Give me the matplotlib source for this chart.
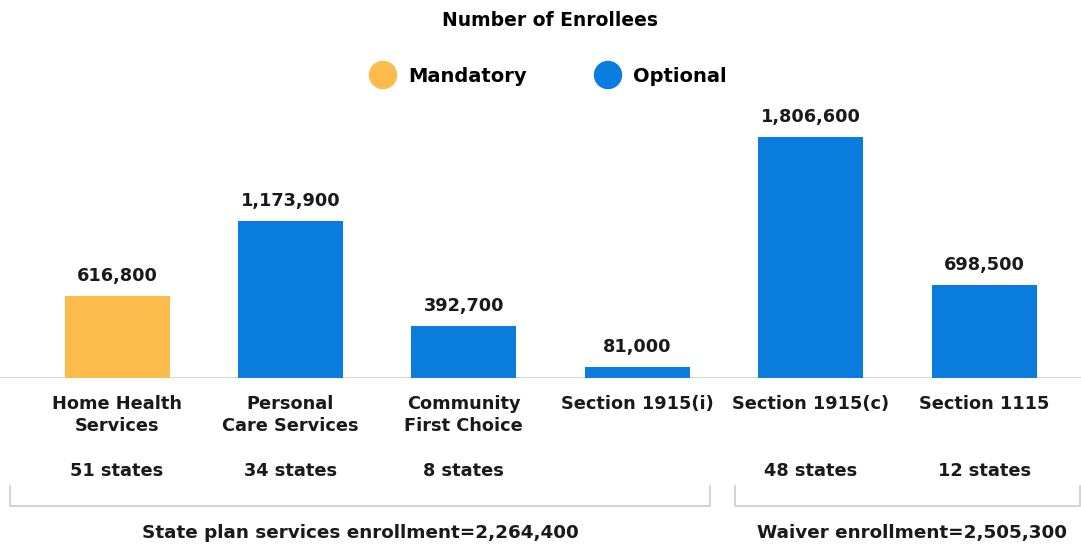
import matplotlib
matplotlib.use('Agg')
import matplotlib.pyplot as plt
from matplotlib import transforms
from matplotlib.patches import Ellipse
from matplotlib.lines import Line2D

categories = ['Home Health\nServices', 'Personal\nCare Services', 'Community\nFirst Choice',
              'Section 1915(i)', 'Section 1915(c)', 'Section 1115']
enrollees = [616800, 1173900, 392700, 81000, 1806600, 698500]
kinds = ['Mandatory', 'Optional', 'Optional', 'Optional', 'Optional', 'Optional']
states = ['51 states', '34 states', '8 states', '', '48 states', '12 states']
group_labels = ['State plan services enrollment=2,264,400', 'Waiver enrollment=2,505,300']

colors = {'Mandatory': '#FCBB4A', 'Optional': '#0A7CDE'}
W, H = 1081, 546
plt.rcParams['font.family'] = ['DejaVu Sans']

fig = plt.figure(figsize=(W / 100, H / 100), dpi=100)
# axes: baseline at y=378 px, top at y=100 px
ax = fig.add_axes([0, 1 - 378 / H, 1, (378 - 100) / H])
x = list(range(len(categories)))
ax.bar(x, enrollees, width=0.605, color=[colors[k] for k in kinds], zorder=2)
ax.set_xlim(-0.675, 5.559)
ax.set_ylim(0, 2084000)
ax.axhline(0, color='#cfcfcf', lw=1.2, zorder=1)
ax.axis('off')

for xi, v in zip(x, enrollees):
    ax.annotate(f'{v:,}', (xi, v), xytext=(0, 8), textcoords='offset points',
                ha='center', va='bottom', fontsize=12.8, fontweight='semibold', color='#1a1a1a')

tr = transforms.blended_transform_factory(ax.transData, fig.transFigure)

def fy(py):
    return 1 - py / H

for xi, c, s in zip(x, categories, states):
    ax.text(xi, fy(395), c, transform=tr, ha='center', va='top', fontsize=12.8,
            fontweight='semibold', color='#1a1a1a', linespacing=1.3)
    if s:
        ax.text(xi, fy(471), s, transform=tr, ha='center', va='center', fontsize=12.8,
                fontweight='semibold', color='#1a1a1a')

# group brackets (pixel coords)
def bracket(x0, x1):
    xs = [x0 / W, x0 / W, x1 / W, x1 / W]
    ys = [fy(486), fy(506), fy(506), fy(486)]
    fig.add_artist(Line2D(xs, ys, color='#d0d0d0', lw=1.3))

bracket(10, 710)
bracket(735, 1080)
fig.text(360 / W, fy(533), group_labels[0], ha='center', va='center', fontsize=13.2,
         fontweight='semibold', color='#1a1a1a')
fig.text(912 / W, fy(533), group_labels[1], ha='center', va='center', fontsize=13.2,
         fontweight='semibold', color='#1a1a1a')

# title and legend
fig.text(550 / W, fy(20), 'Number of Enrollees', ha='center', va='center', fontsize=13.5,
         fontweight='heavy', color='black')
for cx, name in [(383, 'Mandatory'), (608, 'Optional')]:
    fig.add_artist(Ellipse((cx / W, fy(75)), width=27 / W, height=27 / H,
                           color=colors[name], transform=fig.transFigure))
    fig.text((cx + 25) / W, fy(76), name, ha='left', va='center', fontsize=14,
             fontweight='heavy', color='black')

fig.savefig('out.png', dpi=100)
